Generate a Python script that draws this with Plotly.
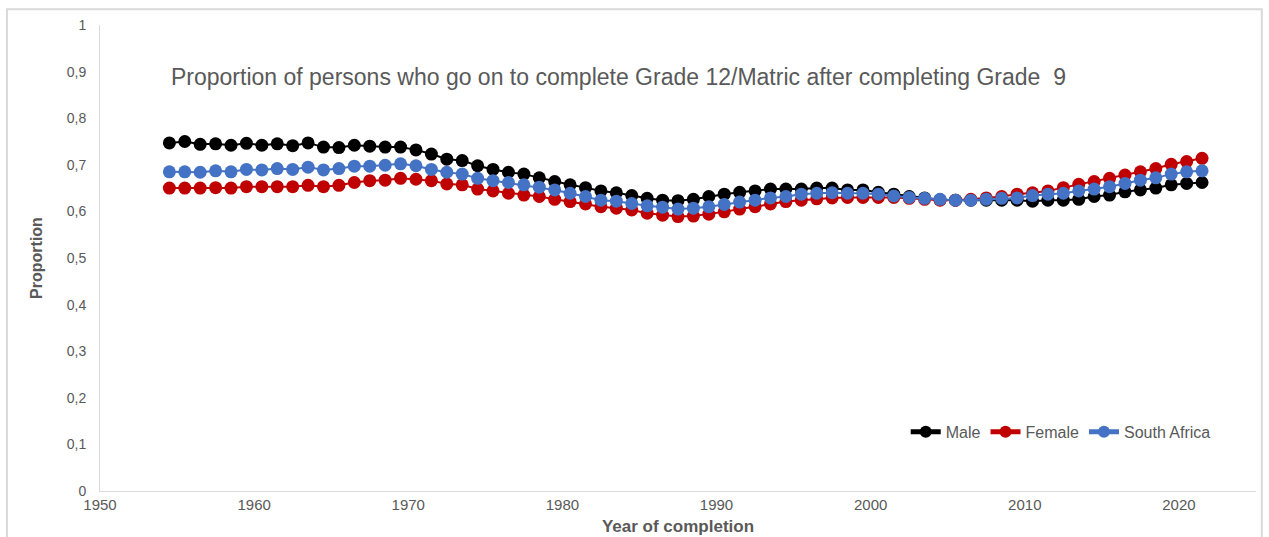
import plotly.graph_objects as go

# Year of completion (values are plotted at the middle of each year interval)
years = list(range(1955, 2023))

male = [
    0.747, 0.750, 0.744, 0.745, 0.742, 0.746, 0.742, 0.745, 0.741, 0.747,
    0.738, 0.737, 0.742, 0.740, 0.738, 0.738, 0.732, 0.723, 0.712, 0.709,
    0.698, 0.690, 0.684, 0.680, 0.672, 0.664, 0.657, 0.651, 0.644, 0.640,
    0.634, 0.628, 0.624, 0.623, 0.626, 0.632, 0.637, 0.641, 0.644, 0.648,
    0.648, 0.648, 0.650, 0.650, 0.646, 0.646, 0.641, 0.637, 0.632, 0.629,
    0.625, 0.624, 0.624, 0.624, 0.624, 0.624, 0.622, 0.624, 0.624, 0.626,
    0.632, 0.635, 0.642, 0.646, 0.650, 0.657, 0.660, 0.662,
]

female = [
    0.650, 0.650, 0.650, 0.651, 0.650, 0.653, 0.653, 0.653, 0.653, 0.656,
    0.653, 0.656, 0.662, 0.666, 0.667, 0.671, 0.669, 0.666, 0.659, 0.657,
    0.648, 0.644, 0.639, 0.635, 0.632, 0.626, 0.621, 0.616, 0.610, 0.607,
    0.603, 0.596, 0.592, 0.589, 0.590, 0.594, 0.599, 0.605, 0.610, 0.616,
    0.621, 0.624, 0.627, 0.629, 0.630, 0.630, 0.630, 0.630, 0.628, 0.626,
    0.624, 0.624, 0.626, 0.629, 0.632, 0.637, 0.640, 0.644, 0.651, 0.658,
    0.664, 0.671, 0.678, 0.685, 0.692, 0.701, 0.707, 0.714,
]

south_africa = [
    0.685, 0.685, 0.684, 0.687, 0.685, 0.690, 0.689, 0.692, 0.690, 0.695,
    0.689, 0.692, 0.697, 0.697, 0.699, 0.702, 0.698, 0.690, 0.684, 0.680,
    0.671, 0.666, 0.662, 0.657, 0.652, 0.646, 0.639, 0.632, 0.624, 0.622,
    0.617, 0.612, 0.609, 0.605, 0.607, 0.610, 0.615, 0.620, 0.624, 0.629,
    0.632, 0.637, 0.639, 0.640, 0.639, 0.639, 0.637, 0.633, 0.630, 0.628,
    0.626, 0.624, 0.624, 0.626, 0.628, 0.629, 0.634, 0.637, 0.639, 0.644,
    0.648, 0.653, 0.660, 0.667, 0.672, 0.680, 0.685, 0.687,
]

y_tick_values = [0, 0.1, 0.2, 0.3, 0.4, 0.5, 0.6, 0.7, 0.8, 0.9, 1]
y_tick_labels = ["0", "0,1", "0,2", "0,3", "0,4", "0,5", "0,6", "0,7", "0,8", "0,9", "1"]
x_tick_values = [1950, 1960, 1970, 1980, 1990, 2000, 2010, 2020]

series = [
    ("Male", male, "#000000"),
    ("Female", female, "#C00000"),
    ("South Africa", south_africa, "#4472C4"),
]

x_mid = [y - 0.5 for y in years]

fig = go.Figure()
for name, values, color in series:
    fig.add_trace(go.Scatter(
        x=x_mid, y=values, name=name, mode="lines+markers",
        line=dict(color=color, width=2),
        marker=dict(color=color, size=13),
    ))

grey = "#595959"
fig.update_layout(
    width=1269, height=537,
    margin=dict(l=100, r=13, t=25, b=46, autoexpand=False),
    paper_bgcolor="white", plot_bgcolor="white",
    font=dict(family="Liberation Sans, Arial, sans-serif", color=grey, size=14),
    showlegend=True,
    legend=dict(
        orientation="h", x=0.697, y=0.127, xanchor="left", yanchor="middle",
        font=dict(size=16, color=grey), itemsizing="constant",
        itemwidth=30, tracegroupgap=0, bgcolor="rgba(0,0,0,0)",
    ),
    xaxis=dict(
        range=[1950, 2025], tickvals=x_tick_values, automargin=False,
        showline=True, linecolor="#D9D9D9", linewidth=1,
        showgrid=False, zeroline=False, ticks="",
        tickfont=dict(size=15, color=grey),
        title=dict(text="<b>Year of completion</b>", font=dict(size=17, color=grey), standoff=8),
    ),
    yaxis=dict(
        range=[0, 1], tickvals=y_tick_values, ticktext=y_tick_labels, automargin=False,
        showline=True, linecolor="#D9D9D9", linewidth=1,
        showgrid=False, zeroline=False, ticks="", ticklabelstandoff=10,
        tickfont=dict(size=14, color=grey),
        title=dict(text="<b>Proportion</b>", font=dict(size=16, color=grey), standoff=20),
    ),
    annotations=[dict(
        text="Proportion of persons who go on to complete Grade 12/Matric after completing Grade\u00a0\u00a09",
        xref="paper", yref="paper", x=0.0595, y=0.888,
        xanchor="left", yanchor="middle", showarrow=False,
        font=dict(size=23, color=grey),
    )],
    shapes=[dict(
        type="rect", xref="paper", yref="paper",
        x0=-0.0805, x1=1.005, y0=-0.12, y1=1.034,
        line=dict(color="#D9D9D9", width=2), fillcolor="rgba(0,0,0,0)", layer="below",
    )],
)

fig.write_html("out.html")
